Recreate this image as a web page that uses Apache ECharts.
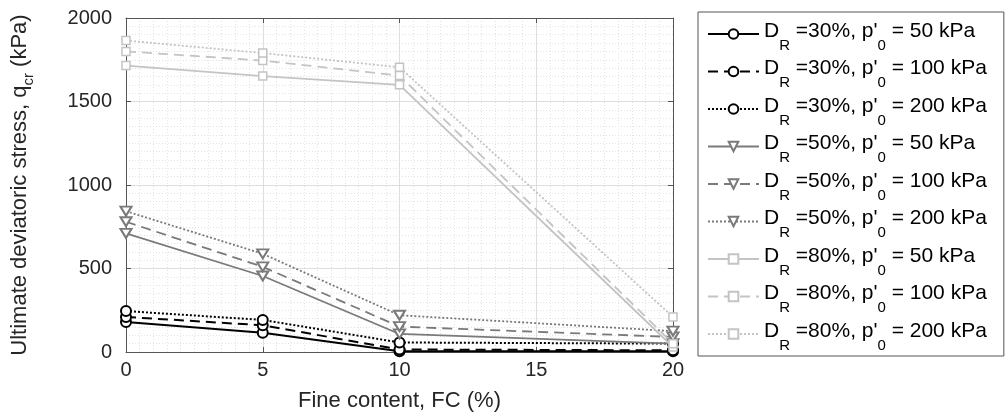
<!DOCTYPE html>
<html>
<head>
<meta charset="utf-8">
<script src="https://cdn.jsdelivr.net/npm/echarts@6/dist/echarts.min.js"></script>
<style>
html,body{margin:0;padding:0;background:#fff;}
#c{width:1005px;height:419px;}
</style>
</head>
<body>
<div id="c"></div>
<script>
// Data
var fineContent = [0, 5, 10, 20];
var DR30_p50  = [180, 115, 5, 5];
var DR30_p100 = [210, 160, 15, 10];
var DR30_p200 = [245, 192, 57, 50];
var DR50_p50  = [710, 455, 108, 50];
var DR50_p100 = [780, 510, 152, 90];
var DR50_p200 = [843, 588, 220, 125];
var DR80_p50  = [1715, 1652, 1600, 30];
var DR80_p100 = [1800, 1745, 1655, 50];
var DR80_p200 = [1865, 1790, 1705, 210];
var relDensity = ['30', '30', '30', '50', '50', '50', '80', '80', '80'];
var pressure = ['50', '100', '200', '50', '100', '200', '50', '100', '200'];
var xTicks = [0, 5, 10, 15, 20];
var yTicks = [0, 500, 1000, 1500, 2000];

var allValues = [DR30_p50, DR30_p100, DR30_p200, DR50_p50, DR50_p100, DR50_p200, DR80_p50, DR80_p100, DR80_p200];
var colors = ['#000000', '#000000', '#000000', '#7a7a7a', '#7a7a7a', '#7a7a7a', '#c4c4c4', '#c4c4c4', '#c4c4c4'];
var dashes = ['solid', [10, 6], [2, 2], 'solid', [10, 6], [2, 2], 'solid', [10, 6], [2, 2]];
var triDown = 'path://M0,0L20,0L10,16Z';
var symbols = ['circle', 'circle', 'circle', triDown, triDown, triDown, 'rect', 'rect', 'rect'];
var symSizes = [10, 10, 10, [11, 9], [11, 9], [11, 9], 8, 8, 8];

var names = [];
var labels = {};
var series = allValues.map(function (vals, i) {
  var nm = 'DR' + relDensity[i] + '_' + pressure[i];
  names.push(nm);
  labels[nm] = '{n|D}{s|R}{n| =' + relDensity[i] + "%, p'}{s|0}{n| = " + pressure[i] + ' kPa}';
  return {
    name: nm,
    type: 'line',
    xAxisIndex: 0,
    yAxisIndex: 0,
    data: fineContent.map(function (x, k) { return [x, vals[k]]; }),
    symbol: symbols[i],
    symbolSize: symSizes[i],
    showSymbol: true,
    lineStyle: { color: colors[i], width: i < 3 ? 2 : 1.8, type: dashes[i] },
    itemStyle: { color: '#ffffff', borderColor: colors[i], borderWidth: i < 6 ? 2 : 1.5 },
    emphasis: { disabled: true },
    animation: false,
    z: 2 + i
  };
});

var tickFont = { fontFamily: 'Liberation Sans, Arial, sans-serif', fontSize: 20, color: '#262626' };

var option = {
  backgroundColor: '#ffffff',
  animation: false,
  grid: { left: 106, right: 332, top: 18, bottom: 67, containLabel: false },
  legend: {
    orient: 'vertical',
    left: 698,
    top: 12,
    data: names,
    selectedMode: false,
    itemWidth: 51,
    itemHeight: 12,
    itemGap: -0.5,
    padding: [3, 17, 3, 9],
    borderColor: '#555',
    borderWidth: 1,
    formatter: function (name) { return labels[name]; },
    textStyle: {
      color: '#000',
      fontFamily: 'Liberation Sans, Arial, sans-serif',
      rich: {
        n: { fontSize: 21, lineHeight: 22, padding: [0, 0, 6, 0], verticalAlign: 'middle', color: '#000', fontFamily: 'Liberation Sans, Arial, sans-serif' },
        s: { fontSize: 15, lineHeight: 14, padding: [23, 0, 0, 0], verticalAlign: 'middle', color: '#000', fontFamily: 'Liberation Sans, Arial, sans-serif' }
      }
    }
  },
  xAxis: [{
    type: 'value', min: xTicks[0], max: xTicks[xTicks.length - 1], interval: 5,
    name: 'Fine content, FC (%)',
    nameLocation: 'middle', nameGap: 38,
    nameTextStyle: { fontFamily: 'Liberation Sans, Arial, sans-serif', fontSize: 22, color: '#262626' },
    axisLine: { show: true, lineStyle: { color: '#555', width: 1 } },
    axisTick: { show: true, inside: true, length: 5, lineStyle: { color: '#555' } },
    axisLabel: Object.assign({ margin: 8, formatter: function (v) { return String(v); } }, tickFont),
    splitLine: { show: true, lineStyle: { color: '#dedede', width: 1 } },
    minorTick: { show: false, splitNumber: 10 },
    minorSplitLine: { show: true, lineStyle: { color: '#e3e3e3', width: 1, type: [1, 2] } }
  }, {
    type: 'value', position: 'top', min: xTicks[0], max: xTicks[xTicks.length - 1], interval: 5,
    axisLine: { show: true, onZero: false, lineStyle: { color: '#555', width: 1 } },
    axisTick: { show: true, inside: true, length: 5, lineStyle: { color: '#555' } },
    axisLabel: { show: false },
    splitLine: { show: false }
  }],
  yAxis: [{
    type: 'value', min: yTicks[0], max: yTicks[yTicks.length - 1], interval: 500,
    name: '{n|Ultimate deviatoric stress, q}{s|cr}{n| (kPa)}',
    nameLocation: 'middle', nameGap: 92,
    nameTextStyle: {
      fontFamily: 'Liberation Sans, Arial, sans-serif', fontSize: 22, color: '#262626',
      rich: {
        n: { fontSize: 22, lineHeight: 24, padding: [0, 0, 4, 0], verticalAlign: 'middle', color: '#262626', fontFamily: 'Liberation Sans, Arial, sans-serif' },
        s: { fontSize: 15, lineHeight: 15, padding: [13, 0, 0, 0], verticalAlign: 'middle', color: '#262626', fontFamily: 'Liberation Sans, Arial, sans-serif' }
      }
    },
    axisLine: { show: true, lineStyle: { color: '#555', width: 1 } },
    axisTick: { show: true, inside: true, length: 5, lineStyle: { color: '#555' } },
    axisLabel: Object.assign({ margin: 14, formatter: function (v) { return String(v); } }, tickFont),
    splitLine: { show: true, lineStyle: { color: '#dedede', width: 1 } },
    minorTick: { show: false, splitNumber: 10 },
    minorSplitLine: { show: true, lineStyle: { color: '#e3e3e3', width: 1, type: [1, 2] } }
  }, {
    type: 'value', position: 'right', min: yTicks[0], max: yTicks[yTicks.length - 1], interval: 500,
    axisLine: { show: true, onZero: false, lineStyle: { color: '#555', width: 1 } },
    axisTick: { show: true, inside: true, length: 5, lineStyle: { color: '#555' } },
    axisLabel: { show: false },
    splitLine: { show: false }
  }],
  series: series
};

var chart = echarts.init(document.getElementById('c'), null, { renderer: 'canvas' });
chart.setOption(option);
</script>
</body>
</html>
